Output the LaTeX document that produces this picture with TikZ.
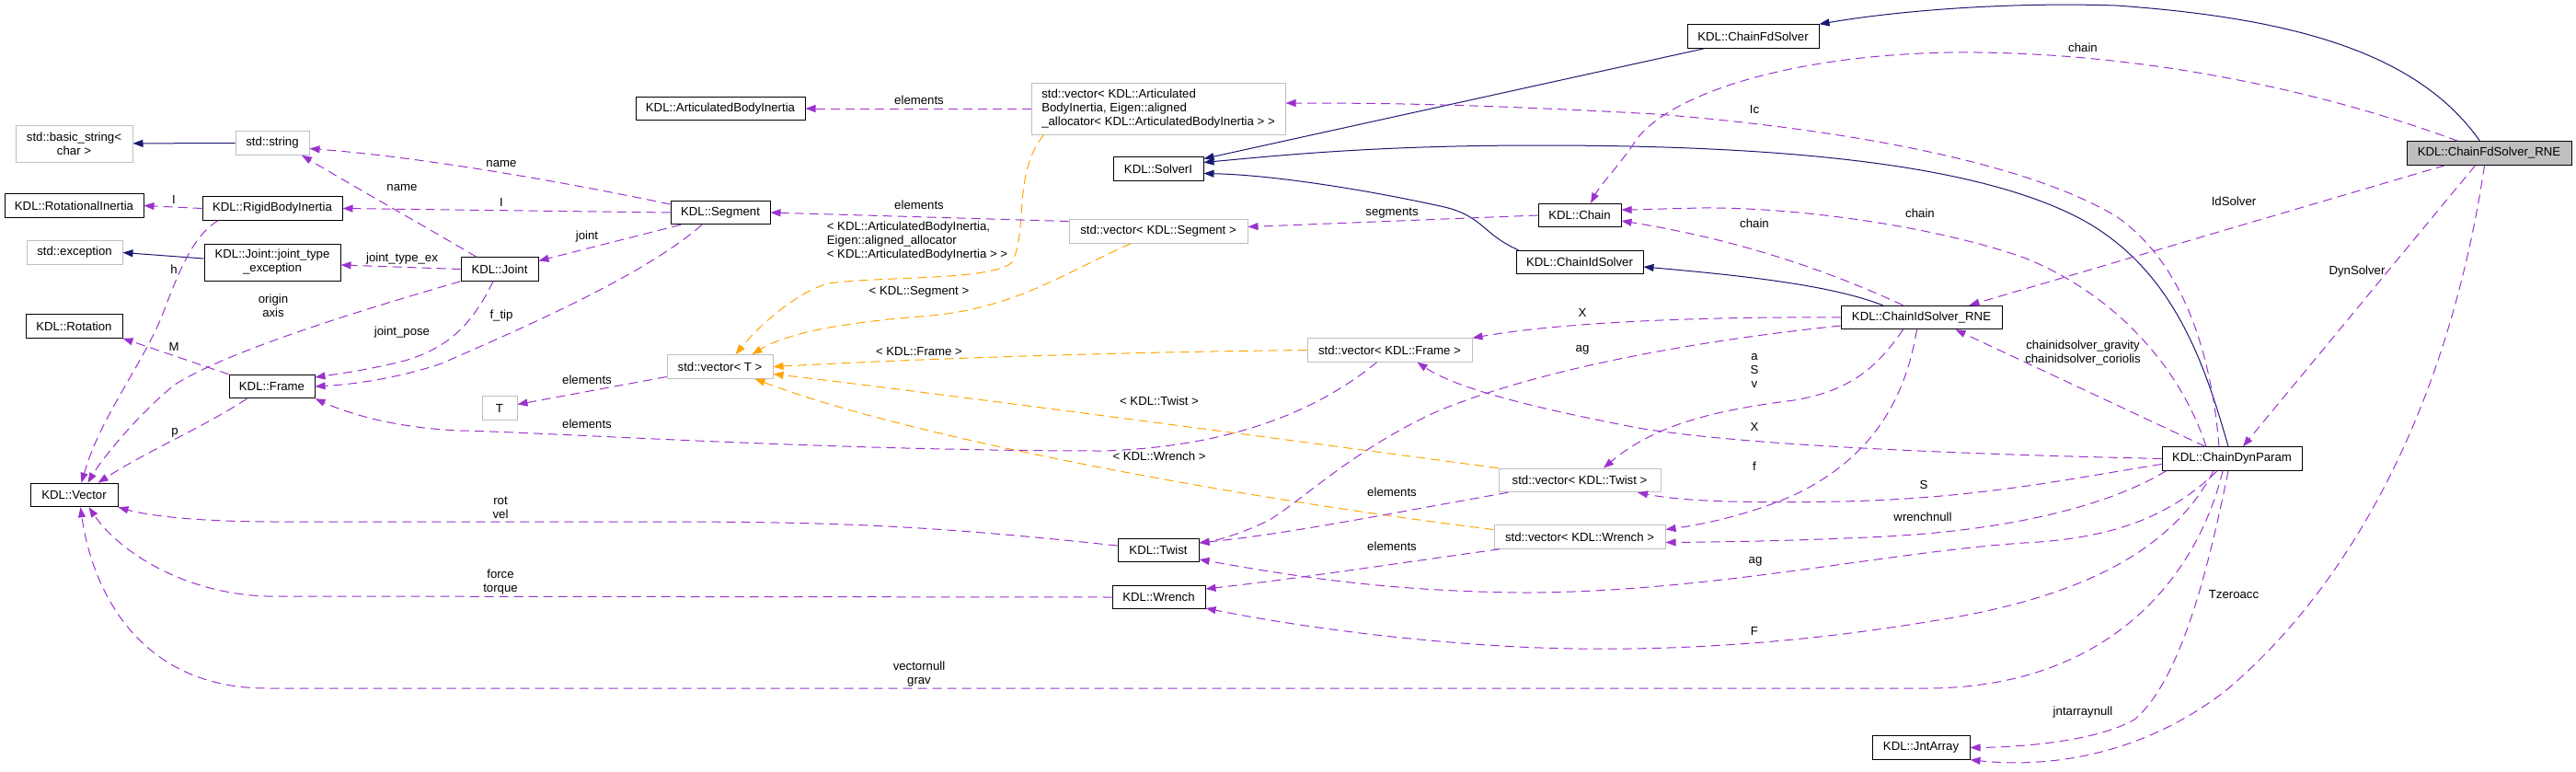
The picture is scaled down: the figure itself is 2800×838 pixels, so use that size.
\documentclass[tikz,border=0pt]{standalone}
\usepackage{fontspec}
\setmainfont{Liberation Sans}
\usepackage{tikz}
\usetikzlibrary{arrows.meta}
\definecolor{inhcol}{HTML}{191970}
\definecolor{memcol}{HTML}{9A32CD}
\definecolor{tplcol}{HTML}{FFA500}
\definecolor{extcol}{HTML}{BFBFBF}

\begin{document}
\begin{tikzpicture}[x=1pt, y=-1pt,
  every node/.style={font=\fontsize{13.2}{15}\selectfont, inner sep=0pt},
  cls/.style={draw=black, fill=white, line width=1pt, minimum height=25.5, align=center},
  ext/.style={cls, draw=extcol},
  focus/.style={cls, fill=extcol},
  lbl/.style={align=center},
  inh/.style={draw=inhcol, line width=1pt, -{Triangle[length=11pt,width=8pt]}},
  mem/.style={draw=memcol, line width=1pt, dash pattern=on 10pt off 6pt, -{Triangle[length=11pt,width=8pt]}},
  tpl/.style={mem, draw=tplcol}]
                \useasboundingbox (0,0) rectangle (2800,838);
                % classes
                \node[ext, minimum width=127, minimum height=40] (basic) at (80.5,156) {std::basic\_string<\\char >};
                \node[ext, minimum width=80] (str) at (296,155.5) {std::string};
                \node[cls, minimum width=151] (rotin) at (80.5,223.5) {KDL::RotationalInertia};
                \node[cls, minimum width=152] (rbi) at (296,226.5) {KDL::RigidBodyInertia};
                \node[ext, minimum width=104] (exc) at (81,274.5) {std::exception};
                \node[cls, minimum width=148, minimum height=40] (jtex) at (296,285) {KDL::Joint::joint\_type\\\_exception};
                \node[cls, minimum width=84] (joint) at (543,292.5) {KDL::Joint};
                \node[cls, minimum width=105] (rot) at (80.5,354.5) {KDL::Rotation};
                \node[cls, minimum width=93] (frame) at (295.5,420) {KDL::Frame};
                \node[ext, minimum width=38] (tnode) at (543,443.5) {T};
                \node[cls, minimum width=95] (vec) at (80.5,538) {KDL::Vector};
                \node[cls, minimum width=184] (abi) at (783,118) {KDL::ArticulatedBodyInertia};
                \node[ext, minimum width=276, minimum height=56, align=left] (vabi) at (1259,118) {std::vector< KDL::Articulated\\BodyInertia, Eigen::aligned\\\_allocator< KDL::ArticulatedBodyInertia > >};
                \node[cls, minimum width=98] (solver) at (1259,183.5) {KDL::SolverI};
                \node[cls, minimum width=108] (seg) at (783,231) {KDL::Segment};
                \node[ext, minimum width=194] (vseg) at (1259,251.5) {std::vector< KDL::Segment >};
                \node[ext, minimum width=115] (vt) at (782.5,398.5) {std::vector< T >};
                \node[cls, minimum width=88] (twist) at (1259,598) {KDL::Twist};
                \node[cls, minimum width=101] (wrench) at (1259.5,649) {KDL::Wrench};
                \node[cls, minimum width=143] (fd) at (1905.5,39.5) {KDL::ChainFdSolver};
                \node[cls, minimum width=90] (chain) at (1717,234) {KDL::Chain};
                \node[cls, minimum width=138] (idsolver) at (1717,285) {KDL::ChainIdSolver};
                \node[cls, minimum width=175] (idrne) at (2088.5,345) {KDL::ChainIdSolver\_RNE};
                \node[ext, minimum width=179] (vframe) at (1510.5,380.5) {std::vector< KDL::Frame >};
                \node[ext, minimum width=176] (vtwist) at (1717,522) {std::vector< KDL::Twist >};
                \node[ext, minimum width=186] (vwrench) at (1717,583.5) {std::vector< KDL::Wrench >};
                \node[cls, minimum width=106] (jnt) at (2088,812.5) {KDL::JntArray};
                \node[focus, minimum width=179] (fdrne) at (2705.5,166.5) {KDL::ChainFdSolver\_RNE};
                \node[cls, minimum width=152] (dyn) at (2426,498.5) {KDL::ChainDynParam};
                % inheritance
                \draw[inh] ([xshift=-10pt]fdrne.north) .. controls (2630,60) and (2500,20) .. (2300,6) .. controls (2180,2) and (2060,12) .. (fd.north east);
                \draw[inh] ([xshift=19pt]fd.south west) -- ([yshift=11pt]solver.east);
                \draw[inh] ([xshift=-4pt]dyn.north) .. controls (2395,390) and (2360,290) .. (2260,237) .. controls (2150,180) and (1950,158) .. (1674,158) .. controls (1500,158) and (1400,168) .. ([yshift=7pt]solver.east);
                \draw[inh] ([xshift=3pt]idsolver.north west) .. controls (1612,255) and (1612,235) .. (1570,225) .. controls (1480,205) and (1380,190) .. ([yshift=-5pt]solver.east);
                \draw[inh] ([xshift=-42pt]idrne.north) .. controls (1990,310) and (1900,300) .. ([yshift=-5pt]idsolver.east);
                \draw[inh] (str) -- (basic);
                \draw[inh] ([yshift=4pt]jtex.west) -- (exc.east);
                % template instances
                \draw[tpl] ([xshift=14pt]vabi.south west) .. controls (1100,190) and (1118,250) .. (1100,285) .. controls (1080,305) and (960,300) .. (900,308) .. controls (860,320) and (820,360) .. ([xshift=17pt]vt.north);
                \draw[tpl] ([xshift=-30pt]vseg.south) .. controls (1150,300) and (1100,337) .. (1000,344) .. controls (900,352) and (850,365) .. ([xshift=35pt]vt.north);
                \draw[tpl] (vframe.west) .. controls (1200,383) and (1000,390) .. (vt.east);
                \draw[tpl] (vtwist.north west) .. controls (1400,478) and (1000,425) .. ([yshift=-8pt]vt.east);
                \draw[tpl] ([yshift=8pt]vwrench.west) .. controls (1380,546) and (1000,480) .. ([xshift=38pt]vt.south);
                % members
                \draw[mem] (rbi.west) -- (rotin.east);
                \draw[mem] ([xshift=-59pt]rbi.south) .. controls (215,253) and (200,280) .. (180,333) .. controls (160,390) and (110,450) .. ([xshift=8pt]vec.north);
                \draw[mem] ([xshift=-25pt]joint.north) .. controls (460,245) and (380,200) .. ([xshift=32pt]str.south);
                \draw[mem] ([yshift=9pt]seg.west) .. controls (600,195) and (450,170) .. ([yshift=-6pt]str.east);
                \draw[mem] (seg.west) -- (rbi.east);
                \draw[mem] ([xshift=-43pt]seg.south) -- ([yshift=9pt]joint.east);
                \draw[mem] ([xshift=-20pt]seg.south) .. controls (700,300) and (560,360) .. (480,395) .. controls (430,412) and (380,418) .. (frame.east);
                \draw[mem] (joint.west) -- ([yshift=-3pt]jtex.east);
                \draw[mem] ([xshift=-7pt]joint.south) .. controls (510,360) and (480,380) .. (440,392) .. controls (400,402) and (370,406) .. ([yshift=10pt]frame.east);
                \draw[mem] (joint.south west) .. controls (400,335) and (250,380) .. (190,418) .. controls (150,450) and (110,500) .. ([xshift=15pt]vec.north);
                \draw[mem] (frame.north west) -- (rot.south east);
                \draw[mem] ([xshift=-27pt]frame.south) .. controls (220,465) and (160,490) .. ([xshift=26pt]vec.north);
                \draw[mem] ([yshift=-11pt]vt.west) -- ([yshift=4pt]tnode.east);
                \draw[mem] ([xshift=-14pt]vframe.south) .. controls (1440,440) and (1350,485) .. (1200,490) .. controls (900,490) and (600,470) .. (500,468) .. controls (430,465) and (380,450) .. (frame.south east);
                \draw[mem] ([yshift=11pt]vseg.west) -- (seg.east);
                \draw[mem] (vabi.west) -- (abi.east);
                \draw[mem] (chain.west) -- ([yshift=5pt]vseg.east);
                \draw[mem] ([xshift=-78pt]vtwist.south) .. controls (1500,560) and (1400,580) .. ([yshift=8pt]twist.east);
                \draw[mem] ([xshift=-87pt]vwrench.south) .. controls (1500,615) and (1400,630) .. ([yshift=9pt]wrench.east);
                \draw[mem] ([yshift=5pt]twist.west) .. controls (1000,570) and (900,567) .. (700,567) -- (300,567) .. controls (210,567) and (160,560) .. (vec.south east);
                \draw[mem] (wrench.west) -- (290,648) .. controls (200,645) and (130,600) .. ([xshift=16pt]vec.south);
                \draw[mem] ([xshift=-10pt]dyn.south) .. controls (2390,620) and (2300,745) .. (2100,748) -- (290,748) .. controls (150,748) and (100,640) .. ([xshift=7pt]vec.south);
                \draw[mem] ([xshift=-4pt]dyn.south) .. controls (2400,620) and (2370,740) .. (2320,782) .. controls (2280,805) and (2200,812) .. (jnt.east);
                \draw[mem] ([xshift=-5pt]fdrne.south) .. controls (2660,450) and (2550,640) .. (2420,750) .. controls (2330,820) and (2230,835) .. (jnt.south east);
                \draw[mem] ([xshift=-34pt]fdrne.north) .. controls (2500,90) and (2300,55) .. (2120,57) .. controls (1950,60) and (1820,100) .. (1780,150) .. controls (1760,180) and (1740,200) .. ([xshift=12pt]chain.north);
                \draw[mem] ([xshift=-14pt]dyn.north) .. controls (2405,400) and (2380,290) .. (2300,235) .. controls (2200,175) and (2000,140) .. (1800,124) .. controls (1600,113) and (1500,112) .. ([yshift=6pt]vabi.east);
                \draw[mem] ([xshift=-28pt]dyn.north) .. controls (2370,400) and (2300,320) .. (2200,280) .. controls (2100,245) and (1950,225) .. (1850,226) .. controls (1800,227) and (1780,228) .. ([yshift=6pt]chain.east);
                \draw[mem] ([xshift=-20pt]idrne.north) .. controls (2000,300) and (1900,262) .. ([yshift=-6pt]chain.east);
                \draw[mem] ([xshift=-48pt]fdrne.south) -- ([xshift=52pt]idrne.north);
                \draw[mem] ([xshift=-15pt]fdrne.south) -- ([xshift=12pt]dyn.north);
                \draw[mem] ([xshift=-29pt]dyn.north) -- ([xshift=37pt]idrne.south);
                \draw[mem] (idrne.west) .. controls (1850,344) and (1700,350) .. (vframe.north east);
                \draw[mem] ([yshift=-9pt]idrne.west) .. controls (1800,375) and (1650,410) .. (1560,448) .. controls (1470,490) and (1420,540) .. (1380,565) .. controls (1350,580) and (1320,588) .. ([yshift=8pt]twist.east);
                \draw[mem] ([xshift=-20pt]idrne.south) .. controls (2040,400) and (2010,425) .. (1950,435) .. controls (1870,445) and (1800,460) .. ([xshift=26pt]vtwist.north);
                \draw[mem] ([xshift=-5pt]idrne.south) .. controls (2070,440) and (2030,500) .. (1950,538) .. controls (1900,560) and (1850,570) .. ([yshift=8pt]vwrench.east);
                \draw[mem] (dyn.west) .. controls (2150,494) and (1900,485) .. (1780,465) .. controls (1650,440) and (1580,420) .. ([xshift=30pt]vframe.south);
                \draw[mem] ([yshift=-6pt]dyn.west) .. controls (2250,520) and (2150,542) .. (2000,545) .. controls (1900,547) and (1830,545) .. ([xshift=63pt]vtwist.south);
                \draw[mem] ([xshift=5pt]dyn.south west) .. controls (2300,545) and (2200,575) .. (2050,583) .. controls (1950,588) and (1870,589) .. ([yshift=-6pt]vwrench.east);
                \draw[mem] ([xshift=-16pt]dyn.south) .. controls (2360,560) and (2300,585) .. (2200,590) .. controls (2050,600) and (1850,645) .. (1650,644) .. controls (1500,642) and (1400,625) .. ([yshift=-10pt]twist.east);
                \draw[mem] ([xshift=-20pt]dyn.south) .. controls (2360,600) and (2260,650) .. (2100,675) .. controls (1950,700) and (1800,710) .. (1650,703) .. controls (1500,695) and (1380,675) .. ([yshift=-12pt]wrench.east);
                % edge labels
                \foreach \n/\x/\y in {ab/999/109, sg/999/223, tt/638/413, fr/638/461, tw/1513/535, wr/1513/594}
                  \node[lbl] (el\n) at (\x,\y) {elements};
                \node[lbl] (lrbiI) at (189,217) {I};
                \node[lbl] (lh) at (189,293) {h};
                \node[lbl] (ljname) at (437,204) {name};
                \node[lbl] (lsname) at (545,178) {name};
                \node[lbl] (lsegI) at (545,220) {I};
                \node[lbl] (ljoint) at (638,257) {joint};
                \node[lbl] (ljtex) at (437,281) {joint\_type\_ex};
                \node[lbl] (lorigin) at (297,332) {origin\\axis};
                \node[lbl] (lpose) at (437,361) {joint\_pose};
                \node[lbl] (lftip) at (545,343) {f\_tip};
                \node[lbl] (lM) at (189,377) {M};
                \node[lbl] (lp) at (190,470) {p};
                \node[lbl] (lrot) at (544,552) {rot\\vel};
                \node[lbl] (lforce) at (544,633) {force\\torque};
                \node[lbl] (lgrav) at (999,733) {vectornull\\grav};
                \node[lbl, align=left] (tabi) at (997,262) {< KDL::ArticulatedBodyInertia,\\Eigen::aligned\_allocator\\< KDL::ArticulatedBodyInertia > >};
                \node[lbl] (tseg) at (999,317) {< KDL::Segment >};
                \node[lbl] (tframe) at (999,382) {< KDL::Frame >};
                \node[lbl] (ttwist) at (1260,436) {< KDL::Twist >};
                \node[lbl] (twrench) at (1260,496) {< KDL::Wrench >};
                \node[lbl] (lsegs) at (1513,232) {segments};
                \node[lbl] (lIc) at (1907,119) {Ic};
                \node[lbl] (lchain1) at (2264,52) {chain};
                \node[lbl] (lchain2) at (2087,232) {chain};
                \node[lbl] (lchain3) at (1907,243) {chain};
                \node[lbl] (lX1) at (1720,340) {X};
                \node[lbl] (lag1) at (1720,380) {ag};
                \node[lbl] (lasv) at (1907,403) {a\\S\\v};
                \node[lbl] (lX2) at (1907,464) {X};
                \node[lbl] (lf) at (1907,507) {f};
                \node[lbl] (lS) at (2091,527) {S};
                \node[lbl] (lwnull) at (2090,562) {wrenchnull};
                \node[lbl] (lag2) at (1908,610) {ag};
                \node[lbl] (lF) at (1907,686) {F};
                \node[lbl] (lid) at (2428,219) {IdSolver};
                \node[lbl] (ldyn) at (2562,295) {DynSolver};
                \node[lbl] (lcis) at (2264,384) {chainidsolver\_gravity\\chainidsolver\_coriolis};
                \node[lbl] (ltzero) at (2428,646) {Tzeroacc};
                \node[lbl] (ljnull) at (2264,774) {jntarraynull};
            \end{tikzpicture}
\end{document}
